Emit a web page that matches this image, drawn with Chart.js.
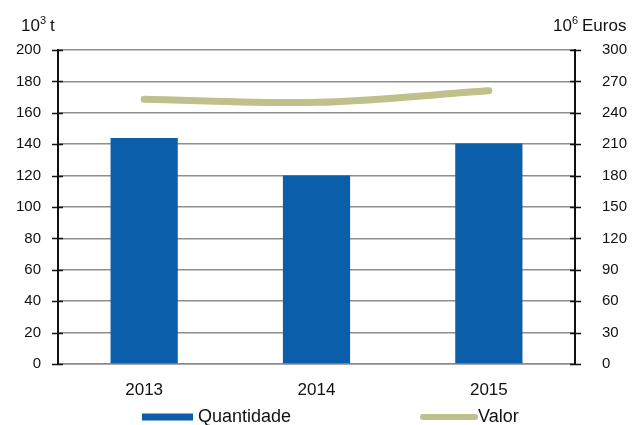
<!DOCTYPE html>
<html>
<head>
<meta charset="utf-8">
<script src="https://cdn.jsdelivr.net/npm/chart.js@4.4.1/dist/chart.umd.min.js"></script>
<style>
  html, body { margin: 0; padding: 0; background: #ffffff; }
  #wrap { width: 633px; height: 425px; position: relative; }
</style>
</head>
<body>
<div id="wrap"><canvas id="c" width="633" height="425"></canvas></div>
<script>
// Anos
const categories = ['2013', '2014', '2015'];
// Quantidade (10^3 t)
const quantidade = [144, 120, 140.5];
// Valor (10^6 Euros)
const valor = [253, 250, 261];
// Escalas
const leftTicks = [0, 20, 40, 60, 80, 100, 120, 140, 160, 180, 200];
const rightTicks = [0, 30, 60, 90, 120, 150, 180, 210, 240, 270, 300];
const seriesNames = ['Quantidade', 'Valor'];

const FONT = '"Liberation Sans", Arial, sans-serif';
const BLUE = '#0b5faa';
const KHAKI = '#bfc08b';

// Marcas das escalas atravessando os eixos, unidades e legenda
const decor = {
  id: 'decor',
  afterDraw(chart) {
    const ctx = chart.ctx;
    const area = chart.chartArea;
    const yL = chart.scales.y;
    const yR = chart.scales.y1;
    ctx.save();
    ctx.strokeStyle = '#111';
    ctx.lineWidth = 1.5;
    yL.ticks.forEach(t => {
      const p = Math.round(yL.getPixelForValue(t.value)) + 0.5;
      ctx.beginPath(); ctx.moveTo(area.left - 6, p); ctx.lineTo(area.left + 5, p); ctx.stroke();
    });
    yR.ticks.forEach(t => {
      const p = Math.round(yR.getPixelForValue(t.value)) + 0.5;
      ctx.beginPath(); ctx.moveTo(area.right - 5, p); ctx.lineTo(area.right + 6, p); ctx.stroke();
    });

    // Unidades dos eixos
    ctx.fillStyle = '#111';
    ctx.textBaseline = 'alphabetic';
    ctx.textAlign = 'left';
    const unit = (x, base, sup, rest) => {
      ctx.font = '17px ' + FONT;
      ctx.fillText(base, x, 31);
      let w = ctx.measureText(base).width;
      ctx.font = '11px ' + FONT;
      ctx.fillText(sup, x + w, 24);
      w += ctx.measureText(sup).width;
      ctx.font = '17px ' + FONT;
      ctx.fillText(rest, x + w + 4, 31);
    };
    unit(21, '10', '3', 't');
    unit(553, '10', '6', 'Euros');

    // Legenda
    const ly = 417;
    const bar = chart.data.datasets.find(d => d.type === 'bar');
    const line = chart.data.datasets.find(d => d.type === 'line');
    ctx.font = '18px ' + FONT;
    ctx.textBaseline = 'middle';
    ctx.fillStyle = bar.backgroundColor;
    ctx.fillRect(142, ly - 3.5, 51, 7);
    ctx.fillStyle = '#111';
    ctx.fillText(bar.label, 198, ly);
    ctx.strokeStyle = line.borderColor;
    ctx.lineWidth = 6;
    ctx.lineCap = 'round';
    ctx.beginPath(); ctx.moveTo(423, ly); ctx.lineTo(475, ly); ctx.stroke();
    ctx.fillStyle = '#111';
    ctx.fillText(line.label, 478, ly);
    ctx.restore();
  }
};

new Chart(document.getElementById('c'), {
  data: {
    labels: categories,
    datasets: [
      {
        type: 'line',
        label: seriesNames[1],
        data: valor,
        yAxisID: 'y1',
        borderColor: KHAKI,
        backgroundColor: KHAKI,
        borderWidth: 7,
        borderCapStyle: 'round',
        borderJoinStyle: 'round',
        tension: 0.3,
        pointRadius: 0,
        order: 0
      },
      {
        type: 'bar',
        label: seriesNames[0],
        data: quantidade,
        yAxisID: 'y',
        backgroundColor: BLUE,
        borderWidth: 0,
        barPercentage: 0.39,
        categoryPercentage: 1,
        order: 1
      }
    ]
  },
  options: {
    responsive: false,
    animation: false,
    devicePixelRatio: 1,
    layout: { padding: { top: 50, left: 0, right: 0, bottom: 0 } },
    plugins: { legend: { display: false }, tooltip: { enabled: false } },
    scales: {
      x: {
        grid: { display: false, drawTicks: false },
        border: { display: true, color: '#8a8a8a', width: 1.5 },
        ticks: { color: '#111', font: { family: FONT, size: 17 }, padding: 16 },
        afterFit(s) { s.height = 61; }
      },
      y: {
        position: 'left',
        min: 0, max: 200,
        afterBuildTicks(s) { s.ticks = leftTicks.map(v => ({ value: v })); },
        grid: { color: '#8e8e8e', lineWidth: 1.5, drawTicks: false },
        border: { display: true, color: '#111', width: 2 },
        ticks: { color: '#111', font: { family: FONT, size: 15 }, padding: 17 },
        afterFit(s) { s.width = 58; }
      },
      y1: {
        position: 'right',
        min: 0, max: 300,
        afterBuildTicks(s) { s.ticks = rightTicks.map(v => ({ value: v })); },
        grid: { drawOnChartArea: false, drawTicks: false },
        border: { display: true, color: '#111', width: 2 },
        ticks: { color: '#111', font: { family: FONT, size: 15 }, padding: 27 },
        afterFit(s) { s.width = 58; }
      }
    }
  },
  plugins: [decor]
});
</script>
</body>
</html>
